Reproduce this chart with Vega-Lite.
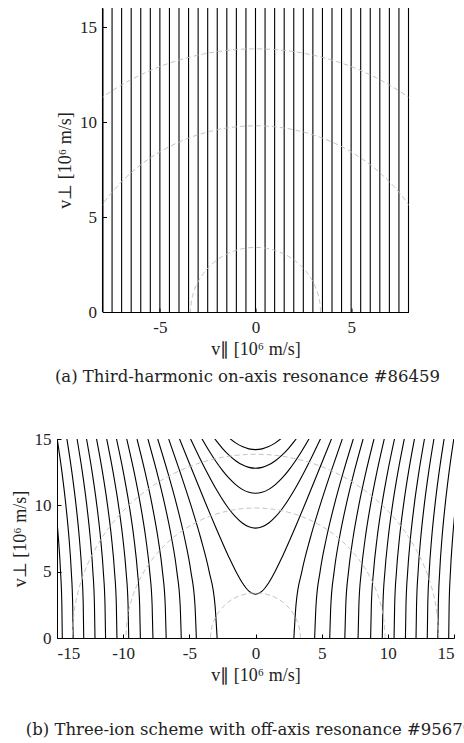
{
  "$schema": "https://vega.github.io/schema/vega-lite/v6.json",
  "padding": {"left": 11, "top": 7, "right": 0, "bottom": 0},
  "background": "#ffffff",
  "config": {
    "view": {"stroke": null},
    "axis": {
      "grid": false,
      "domainColor": "#000000",
      "domainWidth": 1,
      "tickColor": "#000000",
      "tickSize": -4,
      "tickWidth": 1,
      "labelFont": "Liberation Serif",
      "labelFontSize": 17,
      "labelColor": "#222222",
      "labelExpr": "toString(datum.value)",
      "titleFont": "Liberation Serif",
      "titleFontSize": 18,
      "titleFontWeight": "normal",
      "titleColor": "#222222"
    },
    "axisX": {"labelPadding": 11, "titlePadding": 5},
    "axisY": {"labelPadding": 10, "titlePadding": 5},
    "title": {"font": "DejaVu Serif", "fontSize": 16.5, "fontWeight": "normal", "color": "#222222"}
  },
  "datasets": {
    "fieldLines": [
      {"v_par": -8}, {"v_par": -7.5}, {"v_par": -7}, {"v_par": -6.5}, {"v_par": -6}, {"v_par": -5.5},
      {"v_par": -5}, {"v_par": -4.5}, {"v_par": -4}, {"v_par": -3.5}, {"v_par": -3}, {"v_par": -2.5},
      {"v_par": -2}, {"v_par": -1.5}, {"v_par": -1}, {"v_par": -0.5}, {"v_par": 0}, {"v_par": 0.5},
      {"v_par": 1}, {"v_par": 1.5}, {"v_par": 2}, {"v_par": 2.5}, {"v_par": 3}, {"v_par": 3.5},
      {"v_par": 4}, {"v_par": 4.5}, {"v_par": 5}, {"v_par": 5.5}, {"v_par": 6}, {"v_par": 6.5},
      {"v_par": 7}, {"v_par": 7.5}, {"v_par": 8}
    ],
    "rings": [
      {"ring": "E1", "deg": 0, "v_par": 3.4, "v_perp": 0},
      {"ring": "E1", "deg": 10, "v_par": 3.348, "v_perp": 0.59},
      {"ring": "E1", "deg": 20, "v_par": 3.195, "v_perp": 1.163},
      {"ring": "E1", "deg": 30, "v_par": 2.944, "v_perp": 1.7},
      {"ring": "E1", "deg": 40, "v_par": 2.604, "v_perp": 2.186},
      {"ring": "E1", "deg": 50, "v_par": 2.186, "v_perp": 2.604},
      {"ring": "E1", "deg": 60, "v_par": 1.7, "v_perp": 2.944},
      {"ring": "E1", "deg": 70, "v_par": 1.163, "v_perp": 3.195},
      {"ring": "E1", "deg": 80, "v_par": 0.59, "v_perp": 3.348},
      {"ring": "E1", "deg": 90, "v_par": 0, "v_perp": 3.4},
      {"ring": "E1", "deg": 100, "v_par": -0.59, "v_perp": 3.348},
      {"ring": "E1", "deg": 110, "v_par": -1.163, "v_perp": 3.195},
      {"ring": "E1", "deg": 120, "v_par": -1.7, "v_perp": 2.944},
      {"ring": "E1", "deg": 130, "v_par": -2.186, "v_perp": 2.604},
      {"ring": "E1", "deg": 140, "v_par": -2.604, "v_perp": 2.186},
      {"ring": "E1", "deg": 150, "v_par": -2.944, "v_perp": 1.7},
      {"ring": "E1", "deg": 160, "v_par": -3.195, "v_perp": 1.163},
      {"ring": "E1", "deg": 170, "v_par": -3.348, "v_perp": 0.59},
      {"ring": "E1", "deg": 180, "v_par": -3.4, "v_perp": 0},
      {"ring": "E2", "deg": 0, "v_par": 9.8, "v_perp": 0},
      {"ring": "E2", "deg": 10, "v_par": 9.651, "v_perp": 1.701},
      {"ring": "E2", "deg": 20, "v_par": 9.209, "v_perp": 3.352},
      {"ring": "E2", "deg": 30, "v_par": 8.487, "v_perp": 4.9},
      {"ring": "E2", "deg": 40, "v_par": 7.507, "v_perp": 6.299},
      {"ring": "E2", "deg": 50, "v_par": 6.299, "v_perp": 7.507},
      {"ring": "E2", "deg": 60, "v_par": 4.9, "v_perp": 8.487},
      {"ring": "E2", "deg": 70, "v_par": 3.352, "v_perp": 9.209},
      {"ring": "E2", "deg": 80, "v_par": 1.701, "v_perp": 9.651},
      {"ring": "E2", "deg": 90, "v_par": 0, "v_perp": 9.8},
      {"ring": "E2", "deg": 100, "v_par": -1.701, "v_perp": 9.651},
      {"ring": "E2", "deg": 110, "v_par": -3.352, "v_perp": 9.209},
      {"ring": "E2", "deg": 120, "v_par": -4.9, "v_perp": 8.487},
      {"ring": "E2", "deg": 130, "v_par": -6.299, "v_perp": 7.507},
      {"ring": "E2", "deg": 140, "v_par": -7.507, "v_perp": 6.299},
      {"ring": "E2", "deg": 150, "v_par": -8.487, "v_perp": 4.9},
      {"ring": "E2", "deg": 160, "v_par": -9.209, "v_perp": 3.352},
      {"ring": "E2", "deg": 170, "v_par": -9.651, "v_perp": 1.701},
      {"ring": "E2", "deg": 180, "v_par": -9.8, "v_perp": 0},
      {"ring": "E3", "deg": 0, "v_par": 13.85, "v_perp": 0},
      {"ring": "E3", "deg": 10, "v_par": 13.639, "v_perp": 2.404},
      {"ring": "E3", "deg": 20, "v_par": 13.015, "v_perp": 4.737},
      {"ring": "E3", "deg": 30, "v_par": 11.994, "v_perp": 6.925},
      {"ring": "E3", "deg": 40, "v_par": 10.609, "v_perp": 8.903},
      {"ring": "E3", "deg": 50, "v_par": 8.903, "v_perp": 10.609},
      {"ring": "E3", "deg": 60, "v_par": 6.925, "v_perp": 11.994},
      {"ring": "E3", "deg": 70, "v_par": 4.737, "v_perp": 13.015},
      {"ring": "E3", "deg": 80, "v_par": 2.404, "v_perp": 13.639},
      {"ring": "E3", "deg": 90, "v_par": 0, "v_perp": 13.85},
      {"ring": "E3", "deg": 100, "v_par": -2.404, "v_perp": 13.639},
      {"ring": "E3", "deg": 110, "v_par": -4.737, "v_perp": 13.015},
      {"ring": "E3", "deg": 120, "v_par": -6.925, "v_perp": 11.994},
      {"ring": "E3", "deg": 130, "v_par": -8.903, "v_perp": 10.609},
      {"ring": "E3", "deg": 140, "v_par": -10.609, "v_perp": 8.903},
      {"ring": "E3", "deg": 150, "v_par": -11.994, "v_perp": 6.925},
      {"ring": "E3", "deg": 160, "v_par": -13.015, "v_perp": 4.737},
      {"ring": "E3", "deg": 170, "v_par": -13.639, "v_perp": 2.404},
      {"ring": "E3", "deg": 180, "v_par": -13.85, "v_perp": 0}
    ],
    "resonance": [
      {"curve": "L1", "v_par": -2.9, "v_perp": 0}, {"curve": "L1", "v_par": -3.061, "v_perp": 2.5}, {"curve": "L1", "v_par": -3.501, "v_perp": 5}, {"curve": "L1", "v_par": -4.131, "v_perp": 7.5}, {"curve": "L1", "v_par": -4.878, "v_perp": 10}, {"curve": "L1", "v_par": -5.697, "v_perp": 12.5}, {"curve": "L1", "v_par": -6.559, "v_perp": 15},
      {"curve": "L2", "v_par": -4.47, "v_perp": 0}, {"curve": "L2", "v_par": -4.576, "v_perp": 2.5}, {"curve": "L2", "v_par": -4.881, "v_perp": 5}, {"curve": "L2", "v_par": -5.351, "v_perp": 7.5}, {"curve": "L2", "v_par": -5.947, "v_perp": 10}, {"curve": "L2", "v_par": -6.635, "v_perp": 12.5}, {"curve": "L2", "v_par": -7.389, "v_perp": 15},
      {"curve": "L3", "v_par": -5.61, "v_perp": 0}, {"curve": "L3", "v_par": -5.695, "v_perp": 2.5}, {"curve": "L3", "v_par": -5.943, "v_perp": 5}, {"curve": "L3", "v_par": -6.334, "v_perp": 7.5}, {"curve": "L3", "v_par": -6.845, "v_perp": 10}, {"curve": "L3", "v_par": -7.451, "v_perp": 12.5}, {"curve": "L3", "v_par": -8.13, "v_perp": 15},
      {"curve": "L4", "v_par": -6.75, "v_perp": 0}, {"curve": "L4", "v_par": -6.821, "v_perp": 2.5}, {"curve": "L4", "v_par": -7.029, "v_perp": 5}, {"curve": "L4", "v_par": -7.363, "v_perp": 7.5}, {"curve": "L4", "v_par": -7.807, "v_perp": 10}, {"curve": "L4", "v_par": -8.343, "v_perp": 12.5}, {"curve": "L4", "v_par": -8.954, "v_perp": 15},
      {"curve": "L5", "v_par": -7.75, "v_perp": 0}, {"curve": "L5", "v_par": -7.812, "v_perp": 2.5}, {"curve": "L5", "v_par": -7.994, "v_perp": 5}, {"curve": "L5", "v_par": -8.289, "v_perp": 7.5}, {"curve": "L5", "v_par": -8.686, "v_perp": 10}, {"curve": "L5", "v_par": -9.171, "v_perp": 12.5}, {"curve": "L5", "v_par": -9.73, "v_perp": 15},
      {"curve": "L6", "v_par": -8.7, "v_perp": 0}, {"curve": "L6", "v_par": -8.755, "v_perp": 2.5}, {"curve": "L6", "v_par": -8.918, "v_perp": 5}, {"curve": "L6", "v_par": -9.184, "v_perp": 7.5}, {"curve": "L6", "v_par": -9.544, "v_perp": 10}, {"curve": "L6", "v_par": -9.986, "v_perp": 12.5}, {"curve": "L6", "v_par": -10.503, "v_perp": 15},
      {"curve": "L7", "v_par": -9.58, "v_perp": 0}, {"curve": "L7", "v_par": -9.63, "v_perp": 2.5}, {"curve": "L7", "v_par": -9.779, "v_perp": 5}, {"curve": "L7", "v_par": -10.022, "v_perp": 7.5}, {"curve": "L7", "v_par": -10.352, "v_perp": 10}, {"curve": "L7", "v_par": -10.762, "v_perp": 12.5}, {"curve": "L7", "v_par": -11.243, "v_perp": 15},
      {"curve": "L8", "v_par": -10.47, "v_perp": 0}, {"curve": "L8", "v_par": -10.516, "v_perp": 2.5}, {"curve": "L8", "v_par": -10.652, "v_perp": 5}, {"curve": "L8", "v_par": -10.875, "v_perp": 7.5}, {"curve": "L8", "v_par": -11.181, "v_perp": 10}, {"curve": "L8", "v_par": -11.561, "v_perp": 12.5}, {"curve": "L8", "v_par": -12.01, "v_perp": 15},
      {"curve": "L9", "v_par": -11.33, "v_perp": 0}, {"curve": "L9", "v_par": -11.372, "v_perp": 2.5}, {"curve": "L9", "v_par": -11.499, "v_perp": 5}, {"curve": "L9", "v_par": -11.706, "v_perp": 7.5}, {"curve": "L9", "v_par": -11.99, "v_perp": 10}, {"curve": "L9", "v_par": -12.345, "v_perp": 12.5}, {"curve": "L9", "v_par": -12.767, "v_perp": 15},
      {"curve": "L10", "v_par": -12.13, "v_perp": 0}, {"curve": "L10", "v_par": -12.17, "v_perp": 2.5}, {"curve": "L10", "v_par": -12.288, "v_perp": 5}, {"curve": "L10", "v_par": -12.482, "v_perp": 7.5}, {"curve": "L10", "v_par": -12.749, "v_perp": 10}, {"curve": "L10", "v_par": -13.084, "v_perp": 12.5}, {"curve": "L10", "v_par": -13.482, "v_perp": 15},
      {"curve": "L11", "v_par": -12.98, "v_perp": 0}, {"curve": "L11", "v_par": -13.017, "v_perp": 2.5}, {"curve": "L11", "v_par": -13.127, "v_perp": 5}, {"curve": "L11", "v_par": -13.309, "v_perp": 7.5}, {"curve": "L11", "v_par": -13.56, "v_perp": 10}, {"curve": "L11", "v_par": -13.875, "v_perp": 12.5}, {"curve": "L11", "v_par": -14.251, "v_perp": 15},
      {"curve": "L12", "v_par": -13.78, "v_perp": 0}, {"curve": "L12", "v_par": -13.815, "v_perp": 2.5}, {"curve": "L12", "v_par": -13.919, "v_perp": 5}, {"curve": "L12", "v_par": -14.09, "v_perp": 7.5}, {"curve": "L12", "v_par": -14.328, "v_perp": 10}, {"curve": "L12", "v_par": -14.626, "v_perp": 12.5}, {"curve": "L12", "v_par": -14.984, "v_perp": 15},
      {"curve": "L13", "v_par": -14.6, "v_perp": 0}, {"curve": "L13", "v_par": -14.633, "v_perp": 2.5}, {"curve": "L13", "v_par": -14.731, "v_perp": 5}, {"curve": "L13", "v_par": -14.893, "v_perp": 7.5}, {"curve": "L13", "v_par": -15.02, "v_perp": 9}, {"curve": "L13", "v_par": -15.118, "v_perp": 10},
      {"curve": "R1", "v_par": 2.9, "v_perp": 0}, {"curve": "R1", "v_par": 3.061, "v_perp": 2.5}, {"curve": "R1", "v_par": 3.501, "v_perp": 5}, {"curve": "R1", "v_par": 4.131, "v_perp": 7.5}, {"curve": "R1", "v_par": 4.878, "v_perp": 10}, {"curve": "R1", "v_par": 5.697, "v_perp": 12.5}, {"curve": "R1", "v_par": 6.559, "v_perp": 15},
      {"curve": "R2", "v_par": 4.47, "v_perp": 0}, {"curve": "R2", "v_par": 4.576, "v_perp": 2.5}, {"curve": "R2", "v_par": 4.881, "v_perp": 5}, {"curve": "R2", "v_par": 5.351, "v_perp": 7.5}, {"curve": "R2", "v_par": 5.947, "v_perp": 10}, {"curve": "R2", "v_par": 6.635, "v_perp": 12.5}, {"curve": "R2", "v_par": 7.389, "v_perp": 15},
      {"curve": "R3", "v_par": 5.61, "v_perp": 0}, {"curve": "R3", "v_par": 5.695, "v_perp": 2.5}, {"curve": "R3", "v_par": 5.943, "v_perp": 5}, {"curve": "R3", "v_par": 6.334, "v_perp": 7.5}, {"curve": "R3", "v_par": 6.845, "v_perp": 10}, {"curve": "R3", "v_par": 7.451, "v_perp": 12.5}, {"curve": "R3", "v_par": 8.13, "v_perp": 15},
      {"curve": "R4", "v_par": 6.75, "v_perp": 0}, {"curve": "R4", "v_par": 6.821, "v_perp": 2.5}, {"curve": "R4", "v_par": 7.029, "v_perp": 5}, {"curve": "R4", "v_par": 7.363, "v_perp": 7.5}, {"curve": "R4", "v_par": 7.807, "v_perp": 10}, {"curve": "R4", "v_par": 8.343, "v_perp": 12.5}, {"curve": "R4", "v_par": 8.954, "v_perp": 15},
      {"curve": "R5", "v_par": 7.75, "v_perp": 0}, {"curve": "R5", "v_par": 7.812, "v_perp": 2.5}, {"curve": "R5", "v_par": 7.994, "v_perp": 5}, {"curve": "R5", "v_par": 8.289, "v_perp": 7.5}, {"curve": "R5", "v_par": 8.686, "v_perp": 10}, {"curve": "R5", "v_par": 9.171, "v_perp": 12.5}, {"curve": "R5", "v_par": 9.73, "v_perp": 15},
      {"curve": "R6", "v_par": 8.7, "v_perp": 0}, {"curve": "R6", "v_par": 8.755, "v_perp": 2.5}, {"curve": "R6", "v_par": 8.918, "v_perp": 5}, {"curve": "R6", "v_par": 9.184, "v_perp": 7.5}, {"curve": "R6", "v_par": 9.544, "v_perp": 10}, {"curve": "R6", "v_par": 9.986, "v_perp": 12.5}, {"curve": "R6", "v_par": 10.503, "v_perp": 15},
      {"curve": "R7", "v_par": 9.58, "v_perp": 0}, {"curve": "R7", "v_par": 9.63, "v_perp": 2.5}, {"curve": "R7", "v_par": 9.779, "v_perp": 5}, {"curve": "R7", "v_par": 10.022, "v_perp": 7.5}, {"curve": "R7", "v_par": 10.352, "v_perp": 10}, {"curve": "R7", "v_par": 10.762, "v_perp": 12.5}, {"curve": "R7", "v_par": 11.243, "v_perp": 15},
      {"curve": "R8", "v_par": 10.47, "v_perp": 0}, {"curve": "R8", "v_par": 10.516, "v_perp": 2.5}, {"curve": "R8", "v_par": 10.652, "v_perp": 5}, {"curve": "R8", "v_par": 10.875, "v_perp": 7.5}, {"curve": "R8", "v_par": 11.181, "v_perp": 10}, {"curve": "R8", "v_par": 11.561, "v_perp": 12.5}, {"curve": "R8", "v_par": 12.01, "v_perp": 15},
      {"curve": "R9", "v_par": 11.33, "v_perp": 0}, {"curve": "R9", "v_par": 11.372, "v_perp": 2.5}, {"curve": "R9", "v_par": 11.499, "v_perp": 5}, {"curve": "R9", "v_par": 11.706, "v_perp": 7.5}, {"curve": "R9", "v_par": 11.99, "v_perp": 10}, {"curve": "R9", "v_par": 12.345, "v_perp": 12.5}, {"curve": "R9", "v_par": 12.767, "v_perp": 15},
      {"curve": "R10", "v_par": 12.13, "v_perp": 0}, {"curve": "R10", "v_par": 12.17, "v_perp": 2.5}, {"curve": "R10", "v_par": 12.288, "v_perp": 5}, {"curve": "R10", "v_par": 12.482, "v_perp": 7.5}, {"curve": "R10", "v_par": 12.749, "v_perp": 10}, {"curve": "R10", "v_par": 13.084, "v_perp": 12.5}, {"curve": "R10", "v_par": 13.482, "v_perp": 15},
      {"curve": "R11", "v_par": 12.98, "v_perp": 0}, {"curve": "R11", "v_par": 13.017, "v_perp": 2.5}, {"curve": "R11", "v_par": 13.127, "v_perp": 5}, {"curve": "R11", "v_par": 13.309, "v_perp": 7.5}, {"curve": "R11", "v_par": 13.56, "v_perp": 10}, {"curve": "R11", "v_par": 13.875, "v_perp": 12.5}, {"curve": "R11", "v_par": 14.251, "v_perp": 15},
      {"curve": "R12", "v_par": 13.78, "v_perp": 0}, {"curve": "R12", "v_par": 13.815, "v_perp": 2.5}, {"curve": "R12", "v_par": 13.919, "v_perp": 5}, {"curve": "R12", "v_par": 14.09, "v_perp": 7.5}, {"curve": "R12", "v_par": 14.328, "v_perp": 10}, {"curve": "R12", "v_par": 14.626, "v_perp": 12.5}, {"curve": "R12", "v_par": 14.984, "v_perp": 15},
      {"curve": "R13", "v_par": 14.6, "v_perp": 0}, {"curve": "R13", "v_par": 14.633, "v_perp": 2.5}, {"curve": "R13", "v_par": 14.731, "v_perp": 5}, {"curve": "R13", "v_par": 14.893, "v_perp": 7.5}, {"curve": "R13", "v_par": 15.02, "v_perp": 9}, {"curve": "R13", "v_par": 15.118, "v_perp": 10},
      {"curve": "U1", "v_par": -5.8, "v_perp": 15.151}, {"curve": "U1", "v_par": -5, "v_perp": 13.168}, {"curve": "U1", "v_par": -4, "v_perp": 10.719}, {"curve": "U1", "v_par": -3, "v_perp": 8.33}, {"curve": "U1", "v_par": -2, "v_perp": 6.074}, {"curve": "U1", "v_par": -1.5, "v_perp": 5.051}, {"curve": "U1", "v_par": -1, "v_perp": 4.17}, {"curve": "U1", "v_par": -0.5, "v_perp": 3.538}, {"curve": "U1", "v_par": 0, "v_perp": 3.3}, {"curve": "U1", "v_par": 0.5, "v_perp": 3.538}, {"curve": "U1", "v_par": 1, "v_perp": 4.17}, {"curve": "U1", "v_par": 1.5, "v_perp": 5.051}, {"curve": "U1", "v_par": 2, "v_perp": 6.074}, {"curve": "U1", "v_par": 3, "v_perp": 8.33}, {"curve": "U1", "v_par": 4, "v_perp": 10.719}, {"curve": "U1", "v_par": 5, "v_perp": 13.168}, {"curve": "U1", "v_par": 5.8, "v_perp": 15.151},
      {"curve": "U2", "v_par": -5, "v_perp": 15.201}, {"curve": "U2", "v_par": -4, "v_perp": 13.136}, {"curve": "U2", "v_par": -3, "v_perp": 11.272}, {"curve": "U2", "v_par": -2, "v_perp": 9.724}, {"curve": "U2", "v_par": -1.5, "v_perp": 9.121}, {"curve": "U2", "v_par": -1, "v_perp": 8.664}, {"curve": "U2", "v_par": -0.5, "v_perp": 8.378}, {"curve": "U2", "v_par": 0, "v_perp": 8.28}, {"curve": "U2", "v_par": 0.5, "v_perp": 8.378}, {"curve": "U2", "v_par": 1, "v_perp": 8.664}, {"curve": "U2", "v_par": 1.5, "v_perp": 9.121}, {"curve": "U2", "v_par": 2, "v_perp": 9.724}, {"curve": "U2", "v_par": 3, "v_perp": 11.272}, {"curve": "U2", "v_par": 4, "v_perp": 13.136}, {"curve": "U2", "v_par": 5, "v_perp": 15.201},
      {"curve": "U3", "v_par": -4.1, "v_perp": 15.109}, {"curve": "U3", "v_par": -3.5, "v_perp": 14.095}, {"curve": "U3", "v_par": -3, "v_perp": 13.324}, {"curve": "U3", "v_par": -2.5, "v_perp": 12.635}, {"curve": "U3", "v_par": -2, "v_perp": 12.043}, {"curve": "U3", "v_par": -1.5, "v_perp": 11.561}, {"curve": "U3", "v_par": -1, "v_perp": 11.204}, {"curve": "U3", "v_par": 0, "v_perp": 10.91}, {"curve": "U3", "v_par": 1, "v_perp": 11.204}, {"curve": "U3", "v_par": 1.5, "v_perp": 11.561}, {"curve": "U3", "v_par": 2, "v_perp": 12.043}, {"curve": "U3", "v_par": 2.5, "v_perp": 12.635}, {"curve": "U3", "v_par": 3, "v_perp": 13.324}, {"curve": "U3", "v_par": 3.5, "v_perp": 14.095}, {"curve": "U3", "v_par": 4.1, "v_perp": 15.109},
      {"curve": "U4", "v_par": -3.2, "v_perp": 15.179}, {"curve": "U4", "v_par": -3, "v_perp": 14.911}, {"curve": "U4", "v_par": -2.5, "v_perp": 14.299}, {"curve": "U4", "v_par": -2, "v_perp": 13.778}, {"curve": "U4", "v_par": -1.5, "v_perp": 13.359}, {"curve": "U4", "v_par": -1, "v_perp": 13.051}, {"curve": "U4", "v_par": -0.5, "v_perp": 12.863}, {"curve": "U4", "v_par": 0, "v_perp": 12.8}, {"curve": "U4", "v_par": 0.5, "v_perp": 12.863}, {"curve": "U4", "v_par": 1, "v_perp": 13.051}, {"curve": "U4", "v_par": 1.5, "v_perp": 13.359}, {"curve": "U4", "v_par": 2, "v_perp": 13.778}, {"curve": "U4", "v_par": 2.5, "v_perp": 14.299}, {"curve": "U4", "v_par": 3, "v_perp": 14.911}, {"curve": "U4", "v_par": 3.2, "v_perp": 15.179},
      {"curve": "U5", "v_par": -2, "v_perp": 15.088}, {"curve": "U5", "v_par": -1.5, "v_perp": 14.706}, {"curve": "U5", "v_par": -1, "v_perp": 14.427}, {"curve": "U5", "v_par": -0.5, "v_perp": 14.257}, {"curve": "U5", "v_par": 0, "v_perp": 14.2}, {"curve": "U5", "v_par": 0.5, "v_perp": 14.257}, {"curve": "U5", "v_par": 1, "v_perp": 14.427}, {"curve": "U5", "v_par": 1.5, "v_perp": 14.706}, {"curve": "U5", "v_par": 2, "v_perp": 15.088}
    ]
  },
  "vconcat": [
    {
      "width": 306,
      "height": 304,
      "title": {"text": "(a) Third-harmonic on-axis resonance #86459", "orient": "bottom", "frame": "group", "anchor": "middle", "dx": -8, "offset": 11},
      "layer": [
        {
          "data": {"name": "fieldLines"},
          "mark": {"type": "rule", "color": "#000000", "strokeWidth": 1.1},
          "encoding": {
            "x": {"field": "v_par", "type": "quantitative", "scale": {"domain": [-8, 8], "nice": false, "zero": false}, "axis": {"values": [-5, 0, 5], "title": "v∥ [10⁶ m/s]"}}
          }
        },
        {
          "data": {"name": "rings"},
          "mark": {"type": "line", "interpolate": "catmull-rom", "clip": true, "color": "#bdbdbd", "strokeWidth": 0.9, "strokeDash": [5, 3]},
          "encoding": {
            "x": {"field": "v_par", "type": "quantitative", "scale": {"domain": [-8, 8], "nice": false, "zero": false}, "axis": {"values": [-5, 0, 5], "title": "v∥ [10⁶ m/s]"}},
            "y": {"field": "v_perp", "type": "quantitative", "scale": {"domain": [0, 16], "nice": false}, "axis": {"values": [0, 5, 10, 15], "title": "v⊥ [10⁶ m/s]"}},
            "detail": {"field": "ring"},
            "order": {"field": "deg", "type": "quantitative"}
          }
        }
      ]
    },
    {
      "width": 397,
      "height": 199,
      "title": {"text": "(b) Three-ion scheme with off-axis resonance #95679", "orient": "bottom", "frame": "group", "anchor": "middle", "dx": -6, "offset": 38},
      "layer": [
        {
          "data": {"name": "resonance"},
          "mark": {"type": "line", "interpolate": "monotone", "clip": true, "color": "#000000", "strokeWidth": 1.1},
          "encoding": {
            "x": {"field": "v_par", "type": "quantitative", "scale": {"domain": [-15, 15], "nice": false, "zero": false}, "axis": {"values": [-15, -10, -5, 0, 5, 10, 15], "title": "v∥ [10⁶ m/s]"}},
            "y": {"field": "v_perp", "type": "quantitative", "scale": {"domain": [0, 15], "nice": false}, "axis": {"values": [0, 5, 10, 15], "title": "v⊥ [10⁶ m/s]"}},
            "detail": {"field": "curve"}
          }
        },
        {
          "data": {"name": "rings"},
          "mark": {"type": "line", "interpolate": "catmull-rom", "clip": true, "color": "#bdbdbd", "strokeWidth": 0.9, "strokeDash": [5, 3]},
          "encoding": {
            "x": {"field": "v_par", "type": "quantitative", "scale": {"domain": [-15, 15], "nice": false, "zero": false}, "axis": {"values": [-15, -10, -5, 0, 5, 10, 15], "title": "v∥ [10⁶ m/s]"}},
            "y": {"field": "v_perp", "type": "quantitative", "scale": {"domain": [0, 15], "nice": false}, "axis": {"values": [0, 5, 10, 15], "title": "v⊥ [10⁶ m/s]"}},
            "detail": {"field": "ring"},
            "order": {"field": "deg", "type": "quantitative"}
          }
        }
      ]
    }
  ],
  "spacing": 127,
  "bounds": "flush",
  "center": true
}
